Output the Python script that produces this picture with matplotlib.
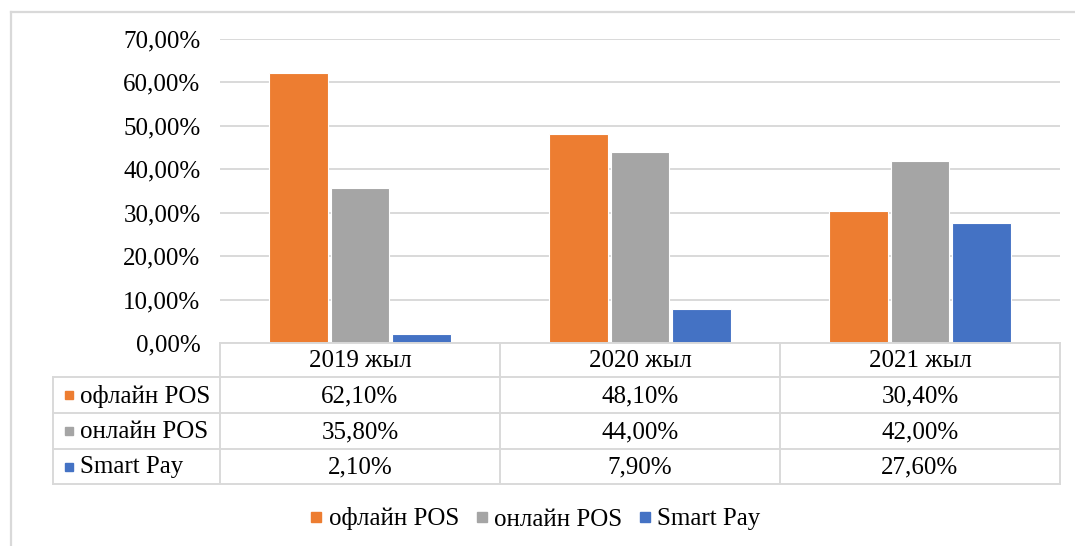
import matplotlib.pyplot as plt
from matplotlib.patches import Rectangle
from matplotlib.lines import Line2D
import numpy as np

plt.rcParams['font.family'] = ['Liberation Serif', 'DejaVu Serif']

years = ['2019 жыл', '2020 жыл', '2021 жыл']
series = ['офлайн POS', 'онлайн POS', 'Smart Pay']
offline_pos = [62.1, 48.1, 30.4]
online_pos = [35.8, 44.0, 42.0]
smart_pay = [2.1, 7.9, 27.6]
colors = ['#ED7D31', '#A5A5A5', '#4472C4']
yticks = [0, 10, 20, 30, 40, 50, 60, 70]

W, H = 1075, 546
grid_c = '#D9D9D9'
fs = 18

fig = plt.figure(figsize=(W / 100, H / 100), dpi=100)

# outer chart border (only top and left visible)
fig.add_artist(Line2D([11 / W, 1], [1 - 12 / H, 1 - 12 / H], color=grid_c, lw=1.6))
fig.add_artist(Line2D([11 / W, 11 / W], [0, 1 - 12 / H], color=grid_c, lw=1.6))

# bar area
x0, x1, ytop, ybot = 220, 1060, 39, 343
ax = fig.add_axes([x0 / W, 1 - ybot / H, (x1 - x0) / W, (ybot - ytop) / H])
x = np.arange(len(years))
vals = [offline_pos, online_pos, smart_pay]
step, bw = 0.221, 0.21
for i, (v, c) in enumerate(zip(vals, colors)):
    ax.bar(x + (i - 1) * step, v, width=bw, color=c, edgecolor='white', linewidth=0.8, zorder=3)
ax.set_xlim(-0.5, 2.5)
ax.set_ylim(0, 70)
ax.set_yticks(yticks)
ax.set_yticklabels([f'{t:.2f}'.replace('.', ',') + '%' for t in yticks], fontsize=fs)
ax.tick_params(axis='y', length=0, pad=14)
ax.set_xticks([])
ax.grid(axis='y', color=grid_c, lw=1.4, zorder=0)
for s in ax.spines.values():
    s.set_visible(False)

# data table
tl, tr, tt, tb = 53, 1060, 343, 484
tax = fig.add_axes([tl / W, 1 - tb / H, (tr - tl) / W, (tb - tt) / H])
tax.set_xlim(tl, tr)
tax.set_ylim(tb, tt)
tax.axis('off')
cols = [220, 500, 780, 1060]
rows = [343, 377, 413, 449, 484]
lk = dict(color=grid_c, lw=1.4, solid_capstyle='projecting', clip_on=False)
tax.plot([cols[0], cols[-1]], [rows[0], rows[0]], **lk)
for r in rows[1:]:
    tax.plot([tl, tr], [r, r], **lk)
for c in cols:
    tax.plot([c, c], [rows[0], rows[-1]], **lk)
tax.plot([tl, tl], [rows[1], rows[-1]], **lk)

for j, yr in enumerate(years):
    tax.text((cols[j] + cols[j + 1]) / 2, (rows[0] + rows[1]) / 2 + 1, yr,
             ha='center', va='center', fontsize=fs)
for i, (name, v, c) in enumerate(zip(series, vals, colors)):
    yc = (rows[i + 1] + rows[i + 2]) / 2
    tax.add_patch(Rectangle((65, yc - 4), 8, 8, color=c, clip_on=False))
    tax.text(80, yc + 1, name, ha='left', va='center', fontsize=fs)
    for j in range(len(years)):
        tax.text((cols[j] + cols[j + 1]) / 2, yc + 1, f'{v[j]:.2f}'.replace('.', ',') + '%',
                 ha='center', va='center', fontsize=fs)

# legend
handles = [Line2D([], [], ls='none', marker='s', markersize=6.5, color=c, label=s)
           for s, c in zip(series, colors)]
fig.legend(handles=handles, loc='center', bbox_to_anchor=(536 / W, 1 - 519 / H), ncol=3,
           frameon=False, fontsize=fs, handlelength=0.4,
           handletextpad=0.3, columnspacing=0.7)

fig.savefig('out.png', dpi=100)
